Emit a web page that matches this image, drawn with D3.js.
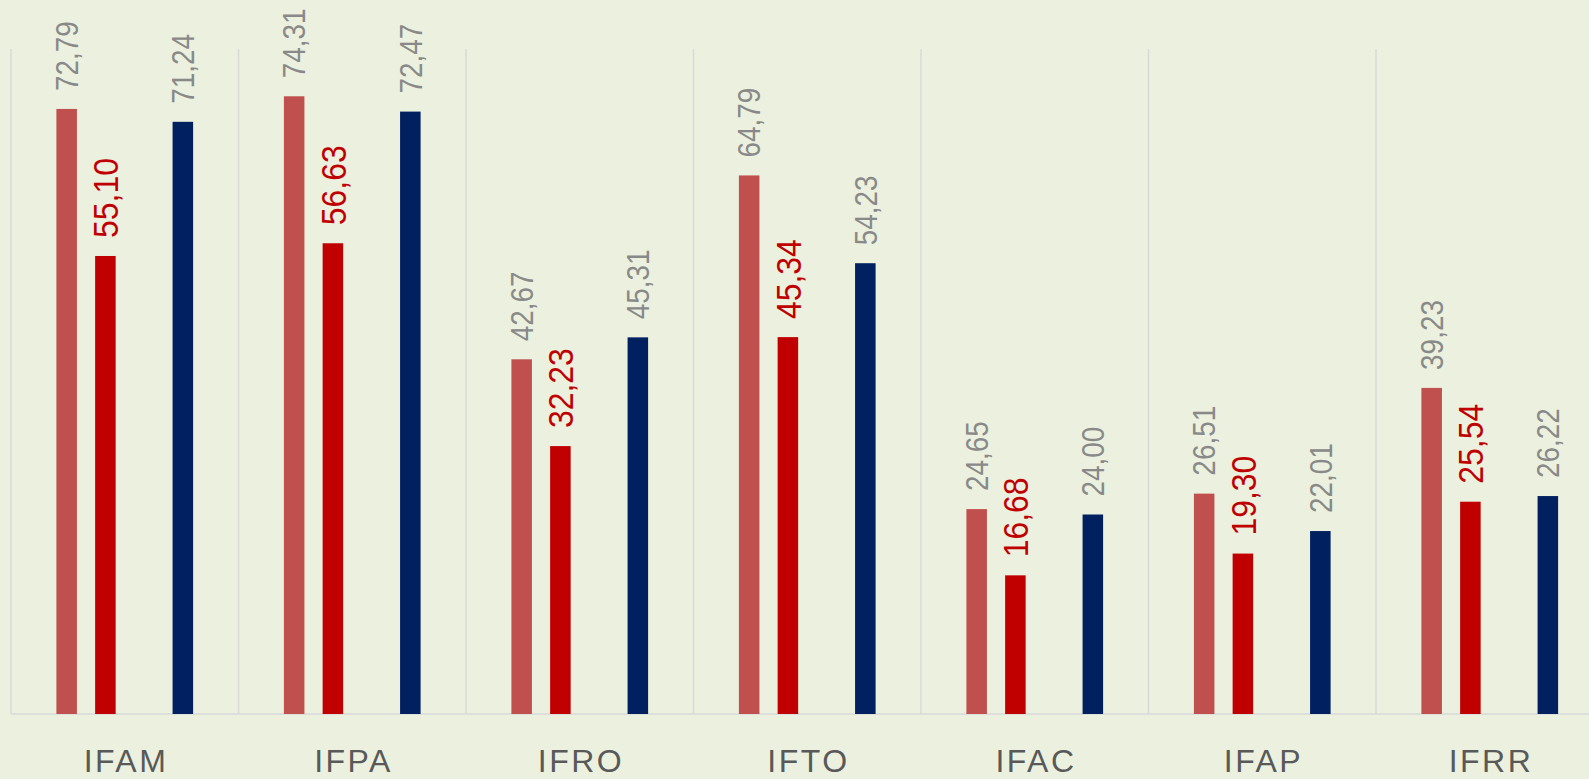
<!DOCTYPE html>
<html>
<head>
<meta charset="utf-8">
<script src="https://cdn.jsdelivr.net/npm/d3@7"></script>
<style>
	html, body { margin: 0; padding: 0; background: #EBF1DE; overflow: hidden; }
	svg { display: block; }
</style>
</head>
<body>
<div id="svg-container"></div>
<script>
// DATA
const categories = ['IFAM', 'IFPA', 'IFRO', 'IFTO', 'IFAC', 'IFAP', 'IFRR'];
const seriesKeys = ['s1', 's2', 's3', 's4'];
const s1Values = [72.79, 74.31, 42.67, 64.79, 24.65, 26.51, 39.23];
const s2Values = [55.10, 56.63, 32.23, 45.34, 16.68, 19.30, 25.54];
const s3Values = [null, null, null, null, null, null, null];
const s4Values = [71.24, 72.47, 45.31, 54.23, 24.00, 22.01, 26.22];
const yDomain = [0, 80];

// styles per series
const barColors = { s1: '#C0504D', s2: '#C00000', s3: '#4F81BD', s4: '#002060' };
const labelColors = { s1: '#898989', s2: '#C00000', s3: '#898989', s4: '#898989' };
const labelSizes = { s1: 31, s2: 35.5, s3: 31, s4: 31 };

const fmt = v => v.toFixed(2).replace('.', ',');

function visualizeData() {
	const w = 1589, h = 779;
	const left = 11, catW = 227.5;
	const top = 49, bottom = 714;

	const svg = d3.select('#svg-container').append('svg')
		.attr('width', w)
		.attr('height', h);

	// scales
	const xScale = d3.scaleBand()
		.domain(categories)
		.range([left, left + catW * categories.length])
		.padding(0);
	const xInner = d3.scaleBand()
		.domain(seriesKeys)
		.range([36.3, catW - 36.3])
		.paddingInner(0.47)
		.paddingOuter(0.235);
	const yScale = d3.scaleLinear()
		.domain(yDomain)
		.range([bottom, top]);

	// vertical gridlines at category boundaries
	const bounds = categories.map(c => xScale(c));
	svg.append('g').selectAll('line')
		.data(bounds)
		.enter().append('line')
		.attr('x1', d => d).attr('x2', d => d)
		.attr('y1', yScale(yDomain[1])).attr('y2', yScale(0))
		.attr('stroke', '#D9D9D9')
		.attr('stroke-width', 1.5);

	// baseline
	svg.append('line')
		.attr('x1', left).attr('x2', w)
		.attr('y1', yScale(0)).attr('y2', yScale(0))
		.attr('stroke', '#D9D9D9')
		.attr('stroke-width', 1.5);

	// flatten data
	const valuesBy = { s1: s1Values, s2: s2Values, s3: s3Values, s4: s4Values };
	const rows = [];
	categories.forEach((c, i) => {
		seriesKeys.forEach(k => {
			const v = valuesBy[k][i];
			if (v !== null) rows.push({ cat: c, key: k, value: v });
		});
	});

	// bars
	svg.append('g').selectAll('rect')
		.data(rows)
		.enter().append('rect')
		.attr('x', d => xScale(d.cat) + xInner(d.key))
		.attr('y', d => yScale(d.value))
		.attr('width', xInner.bandwidth())
		.attr('height', d => yScale(0) - yScale(d.value))
		.attr('fill', d => barColors[d.key]);

	// value labels, rotated
	svg.append('g').selectAll('text')
		.data(rows)
		.enter().append('text')
		.attr('transform', d => {
			const cx = xScale(d.cat) + xInner(d.key) + xInner.bandwidth() / 2;
			const cy = yScale(d.value) - 18;
			return `translate(${cx},${cy}) rotate(-90) scale(0.9,1)`;
		})
		.attr('dy', '0.36em')
		.attr('text-anchor', 'start')
		.attr('font-family', '"Liberation Sans", Arial, sans-serif')
		.attr('font-size', d => labelSizes[d.key])
		.attr('fill', d => labelColors[d.key])
		.text(d => fmt(d.value));

	// category labels
	svg.append('g').selectAll('text')
		.data(categories)
		.enter().append('text')
		.attr('x', d => xScale(d) + xScale.bandwidth() / 2 + 1.25)
		.attr('y', 772)
		.attr('text-anchor', 'middle')
		.attr('font-family', '"Liberation Sans", Arial, sans-serif')
		.attr('font-size', 32)
		.attr('letter-spacing', 2.5)
		.attr('fill', '#595959')
		.text(d => d);
}

document.addEventListener('DOMContentLoaded', () => {
	visualizeData();
});
</script>
</body>
</html>
